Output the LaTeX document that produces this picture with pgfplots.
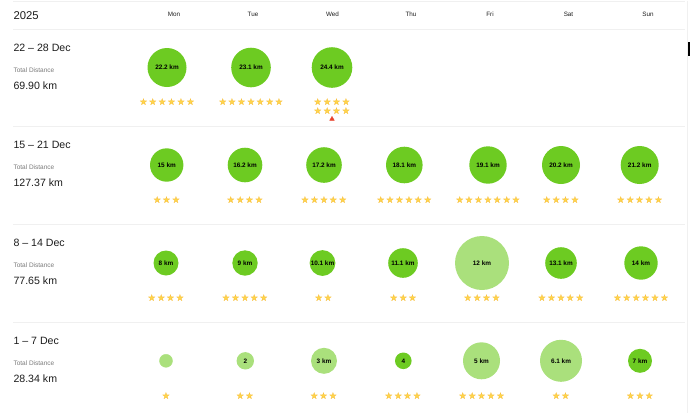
\documentclass[border=0pt]{standalone}
\usepackage{pgfplots}
\pgfplotsset{compat=1.18}
\usepackage{pgfplotstable}
\usepackage{fontspec}
\setmainfont{Liberation Sans}
\newfontfamily\starfont{DejaVu Sans}
\definecolor{dkgreen}{HTML}{6DCB22}
\definecolor{ltgreen}{HTML}{AAE07C}
\definecolor{starfill}{HTML}{FFD54A}
\definecolor{starline}{HTML}{F2A91C}
\definecolor{sepline}{HTML}{F0F0F0}
\definecolor{txt}{HTML}{1C1C1C}
\definecolor{subtxt}{HTML}{7A7A7A}
\definecolor{tri}{HTML}{E8432D}

\newcount\starcnt
\protected\def\onestar{\makebox[9.4pt]{\rlap{\textcolor{starfill}{★}}\textcolor{starline}{☆}}}
\protected\def\starloop{\ifnum\starcnt>0 \onestar\advance\starcnt by -1 \expandafter\starloop\fi}
\protected\def\starrow#1{\begingroup\starfont\fontsize{9.4}{9.6}\selectfont\starcnt=#1\relax\starloop\endgroup}

% bubbles: x, y (pixel position of the cell), r (radius), km, label
\pgfplotstableread[col sep=comma]{
x,y,r,km,lbl
167,67,19.5,22.2,22.2 km
251,67,19.8,23.1,23.1 km
332,67,20.3,24.4,24.4 km
166.7,164.5,16.7,15,15 km
245,164.5,17.3,16.2,16.2 km
324,164.5,17.8,17.2,17.2 km
404.3,164.5,18.3,18.1,18.1 km
488,164.5,18.7,19.1,19.1 km
561,164.5,19,20.2,20.2 km
639.7,164.5,19,21.2,21.2 km
166,262.5,12.5,8,8 km
245,262.5,12.7,9,9 km
322.5,262.5,12.9,10.1,10.1 km
403,262.5,14.8,11.1,11.1 km
561,262.5,15.8,13.1,13.1 km
641,262.5,16.7,14,14 km
403.3,360.3,8.3,4,4
640,360.3,12,7,7 km
}\darkbubbles

\pgfplotstableread[col sep=comma]{
x,y,r,km,lbl
482,262.5,27,12,12 km
245.3,360.3,8.7,2,2
324,360.3,13,3,3 km
481.5,360.3,18.5,5,5 km
561,360.3,21,6.1,6.1 km
}\lightbubbles

% star rows: x, y, number of stars
\pgfplotstableread[col sep=comma]{
x,y,n
167,101.5,6
251,101.5,7
332,101.7,4
332,111,4
166.7,200,3
245,200,4
324,200,5
404.3,200,6
488,200,7
561,200,4
639.7,200,5
166,297.7,4
245,297.7,5
323.5,297.7,2
403.3,297.7,3
482,297.7,4
561,297.7,5
641,297.7,6
166,396,1
245,396,2
323.7,396,3
403,396,4
481.7,396,5
561,396,2
640,396,3
}\starrows

\begin{document}
\begin{tikzpicture}
\begin{axis}[
  width=690pt, height=412pt, scale only axis,
  xmin=0, xmax=690, ymin=0, ymax=412, y dir=reverse,
  axis line style={draw=none},
  major tick length=0pt,
  xtick={174,253,332.5,411,490,568.5,648},
  xticklabels={Mon,Tue,Wed,Thu,Fri,Sat,Sun},
  xticklabel pos=upper,
  xticklabel style={anchor=base, yshift=-15.7pt, font=\fontsize{6.3}{7}\selectfont, text=txt},
  ytick=\empty,
  clip=false,
]
% separators and frame
\draw[sepline, line width=1pt] (axis cs:13.3,1) -- (axis cs:685,1);
\draw[sepline, line width=1pt] (axis cs:13.3,29) -- (axis cs:685,29);
\draw[sepline, line width=1pt] (axis cs:13.3,126.3) -- (axis cs:685,126.3);
\draw[sepline, line width=1pt] (axis cs:13.3,224) -- (axis cs:685,224);
\draw[sepline, line width=1pt] (axis cs:13.3,321.7) -- (axis cs:685,321.7);
\draw[sepline, line width=1pt] (axis cs:687,0) -- (axis cs:687,412);
\fill[black] (axis cs:687.5,41) rectangle (axis cs:690,55.5);

% dark bubbles (radius as meta)
\addplot[only marks, mark=none,
  point meta=explicit symbolic,
  nodes near coords={},
  every node near coord/.append style={circle, fill=dkgreen, draw=none,
     minimum size={2*\pgfplotspointmeta}, anchor=center, inner sep=0pt},
] table[x=x, y=y, meta=r] {\darkbubbles};

% light bubbles (radius as meta)
\addplot[only marks, mark=none,
  point meta=explicit symbolic,
  nodes near coords={},
  every node near coord/.append style={circle, fill=ltgreen, draw=none,
     minimum size={2*\pgfplotspointmeta}, anchor=center, inner sep=0pt},
] table[x=x, y=y, meta=r] {\lightbubbles};

% unlabeled smallest bubble (1 Dec)
\addplot[only marks, mark=*, mark size=6.5pt, color=ltgreen, mark options={fill=ltgreen, draw=ltgreen}]
  coordinates {(166,360.3)};

% bubble labels
\addplot[only marks, mark=none,
  point meta=explicit symbolic,
  nodes near coords,
  every node near coord/.append style={anchor=center, inner sep=0pt, text=black,
     font=\fontsize{6.4}{7}\selectfont\bfseries},
] table[x=x, y=y, meta=lbl] {\darkbubbles};
\addplot[only marks, mark=none,
  point meta=explicit symbolic,
  nodes near coords,
  every node near coord/.append style={anchor=center, inner sep=0pt, text=black,
     font=\fontsize{6.4}{7}\selectfont\bfseries},
] table[x=x, y=y, meta=lbl] {\lightbubbles};

% star ratings
\addplot[only marks, mark=none,
  point meta=explicit symbolic,
  nodes near coords={\starrow{\pgfplotspointmeta}},
  every node near coord/.append style={anchor=center, inner sep=0pt},
] table[x=x, y=y, meta=n] {\starrows};

% red marker under Wed 24 Dec
\addplot[only marks, mark=triangle*, mark size=2.6pt, color=tri, mark options={fill=tri, draw=tri}]
  coordinates {(332,118.5)};

% left-hand texts
\node[anchor=base west, text=txt, font=\fontsize{11.3}{13}\selectfont, inner sep=0pt] at (axis cs:13.3,19) {2025};

\node[anchor=base west, text=txt, font=\fontsize{10.6}{12}\selectfont, inner sep=0pt] at (axis cs:13.3,50.7) {22 – 28 Dec};
\node[anchor=base west, text=subtxt, font=\fontsize{6.5}{7}\selectfont, inner sep=0pt] at (axis cs:13.3,71.8) {Total Distance};
\node[anchor=base west, text=txt, font=\fontsize{10.6}{12}\selectfont, inner sep=0pt] at (axis cs:13.3,88.5) {69.90 km};

\node[anchor=base west, text=txt, font=\fontsize{10.6}{12}\selectfont, inner sep=0pt] at (axis cs:13.3,148.3) {15 – 21 Dec};
\node[anchor=base west, text=subtxt, font=\fontsize{6.5}{7}\selectfont, inner sep=0pt] at (axis cs:13.3,169.3) {Total Distance};
\node[anchor=base west, text=txt, font=\fontsize{10.6}{12}\selectfont, inner sep=0pt] at (axis cs:13.3,186) {127.37 km};

\node[anchor=base west, text=txt, font=\fontsize{10.6}{12}\selectfont, inner sep=0pt] at (axis cs:13.3,246) {8 – 14 Dec};
\node[anchor=base west, text=subtxt, font=\fontsize{6.5}{7}\selectfont, inner sep=0pt] at (axis cs:13.3,267.3) {Total Distance};
\node[anchor=base west, text=txt, font=\fontsize{10.6}{12}\selectfont, inner sep=0pt] at (axis cs:13.3,283.6) {77.65 km};

\node[anchor=base west, text=txt, font=\fontsize{10.6}{12}\selectfont, inner sep=0pt] at (axis cs:13.3,344.3) {1 – 7 Dec};
\node[anchor=base west, text=subtxt, font=\fontsize{6.5}{7}\selectfont, inner sep=0pt] at (axis cs:13.3,365) {Total Distance};
\node[anchor=base west, text=txt, font=\fontsize{10.6}{12}\selectfont, inner sep=0pt] at (axis cs:13.3,382.3) {28.34 km};
\end{axis}
\end{tikzpicture}
\end{document}
